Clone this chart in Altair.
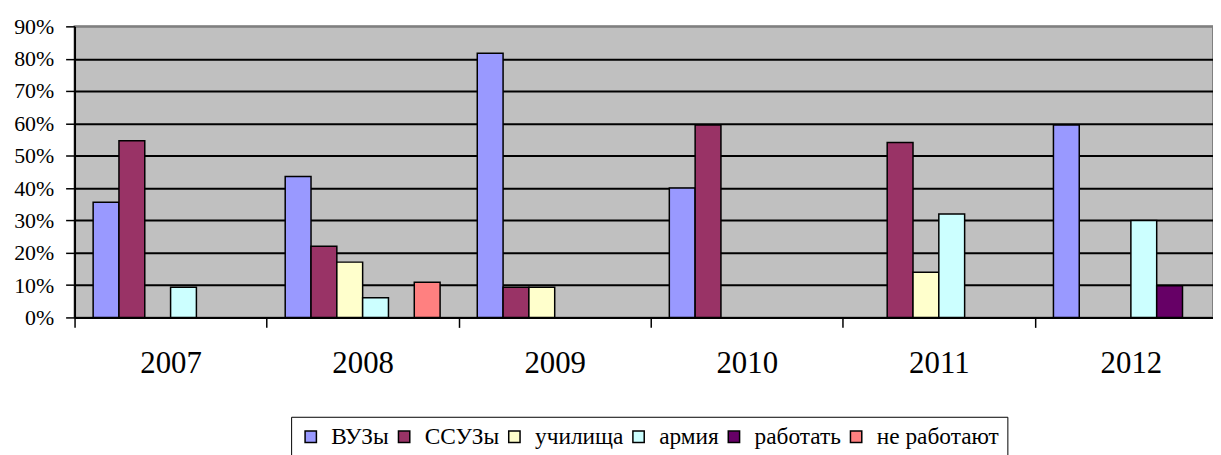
import altair as alt
import pandas as pd

years = ["2007", "2008", "2009", "2010", "2011", "2012"]
series = ["ВУЗы", "ССУЗы", "училища", "армия", "работать", "не работают"]
colors = ["#9999FF", "#993366", "#FFFFCC", "#CCFFFF", "#660066", "#FF8080"]

vuz = [35.6, 43.6, 81.7, 40.0, None, 59.5]
ssuz = [54.6, 22.0, 9.3, 59.5, 54.1, None]
uchilishcha = [None, 17.1, 9.3, None, 14.0, None]
armiya = [9.3, 6.1, None, None, 32.0, 30.0]
rabotat = [None, None, None, None, None, 9.8]
ne_rabotayut = [None, 10.9, None, None, None, None]

y_ticks = [0, 0.1, 0.2, 0.3, 0.4, 0.5, 0.6, 0.7, 0.8, 0.9]

rows = []
for name, vals in zip(series, [vuz, ssuz, uchilishcha, armiya, rabotat, ne_rabotayut]):
    for yr, v in zip(years, vals):
        if v is not None:
            rows.append({"year": yr, "series": name, "value": v / 100})
df = pd.DataFrame(rows)

FONT = "Liberation Serif, Times New Roman, serif"

chart = alt.Chart(df).mark_bar(stroke="black", strokeWidth=1.5).encode(
    x=alt.X(
        "year:N",
        sort=years,
        scale=alt.Scale(paddingInner=0, paddingOuter=0, range=[0, 1160]),
        axis=alt.Axis(
            title=None, labelAngle=0, tickBand="extent", labelFont=FONT,
            labelFontSize=31, labelColor="black", labelPadding=21,
            tickSize=10, tickWidth=1.5, tickColor="black",
            domainColor="black", domainWidth=2, grid=False,
        ),
    ),
    xOffset=alt.XOffset(
        "series:N",
        scale=alt.Scale(domain=series, paddingInner=0, paddingOuter=0.72),
    ),
    y=alt.Y(
        "value:Q",
        scale=alt.Scale(domain=[0, 0.9], nice=False),
        axis=alt.Axis(
            title=None, format=".0%", values=y_ticks, labelFont=FONT,
            labelFontSize=22, labelColor="black", labelPadding=12,
            tickSize=9, tickWidth=1.5, tickColor="black",
            domainColor="black", domainWidth=2,
            grid=True, gridWidth=2,
            gridColor={"condition": {"test": "datum.value >= 0.9", "value": "#808080"}, "value": "black"},
        ),
    ),
    color=alt.Color(
        "series:N",
        scale=alt.Scale(domain=series, range=colors),
        legend=alt.Legend(
            title=None, orient="none", direction="horizontal",
            legendX=218, legendY=393, columns=6,
            symbolType="square", symbolSize=130, symbolStrokeColor="black",
            symbolStrokeWidth=1.5, symbolOpacity=1,
            labelFont=FONT, labelFontSize=23.5, labelColor="black",
            labelOffset=9, columnPadding=3, padding=8,
            strokeColor="black", fillColor="white",
        ),
    ),
).properties(
    width=1146,
    height=293,
    autosize=alt.AutoSizeParams(type="none"),
    padding={"left": 67, "top": 17, "right": 0, "bottom": 137},
).configure(
    background="white", font=FONT,
).configure_legend(
    labelFont=FONT, labelFontSize=23.5,
).configure_axis(
    labelFont=FONT,
).configure_view(
    fill="#C0C0C0", stroke="#808080", strokeWidth=2,
)

chart.save("out.html", embed_options={"renderer": "svg", "actions": False})
